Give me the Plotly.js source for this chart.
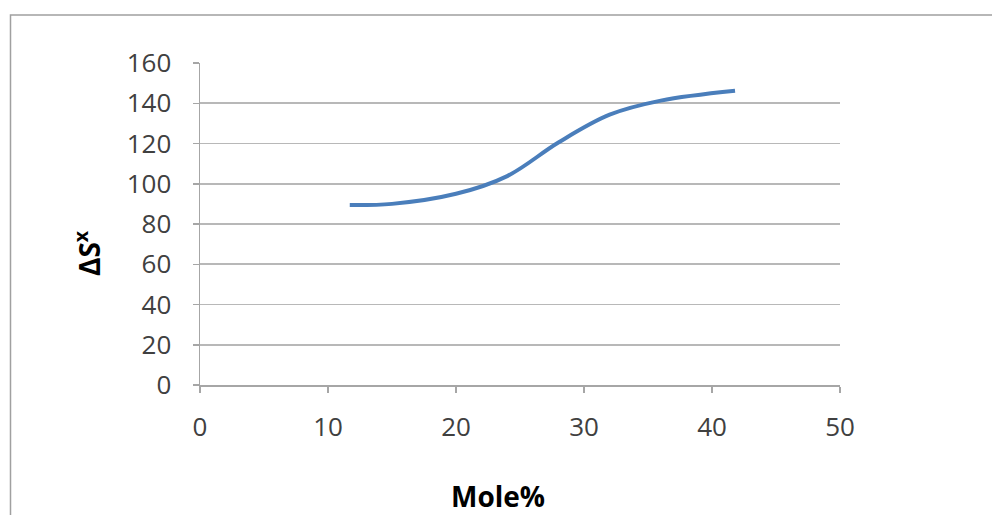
<!DOCTYPE html>
<html>
<head>
<meta charset="utf-8">
<script src="https://cdn.plot.ly/plotly-3.0.1.min.js"></script>
<style>html,body{margin:0;padding:0;background:#fff;}#chart{width:992px;height:515px;}</style>
</head>
<body>
<div id="chart"></div>
<script>
// Data (Mole% vs ΔS*)
const molePercent = [11.7, 15, 20, 24, 28, 32, 36, 41.8];
const deltaS = [89.4, 90, 95, 103.8, 120.5, 134.3, 141.3, 146.2];
const xTicks = [0, 10, 20, 30, 40, 50];
const yTicks = [0, 20, 40, 60, 80, 100, 120, 140, 160];

const W = 992, H = 515;
const L = 200, R = 840, T = 63, B = 385;
const px = x => (x - L) / (R - L);
const py = y => (B - y) / (B - T);

const trace = {
  x: molePercent, y: deltaS, type: 'scatter', mode: 'lines',
  line: {color: '#4a7ebb', width: 4, shape: 'spline', smoothing: 1},
  hoverinfo: 'x+y'
};

const fontFam = '"Open Sans", "Liberation Sans", sans-serif';
const layout = {
  width: W, height: H,
  margin: {l: L, r: W - R, t: T, b: H - B, pad: 0},
  paper_bgcolor: '#ffffff', plot_bgcolor: '#ffffff',
  showlegend: false,
  font: {family: fontFam, color: '#404040', size: 26},
  xaxis: {
    range: [0, 50], tickvals: xTicks, ticktext: xTicks.map(String),
    showgrid: false, zeroline: false, showline: true, linecolor: '#a6a6a6', linewidth: 1.5,
    ticks: 'outside', ticklen: 6, tickcolor: '#a6a6a6', tickwidth: 1.5,
    ticklabelstandoff: 12, tickfont: {size: 26, color: '#404040'}, fixedrange: true
  },
  yaxis: {
    range: [0, 160], tickvals: yTicks, ticktext: yTicks.map(String),
    showgrid: true, gridcolor: '#b8b8b8', gridwidth: 1.6,
    zeroline: false, showline: true, linecolor: '#a6a6a6', linewidth: 1.5,
    ticks: 'outside', ticklen: 6, tickcolor: '#a6a6a6', tickwidth: 1.5,
    ticklabelstandoff: 16, tickfont: {size: 26, color: '#404040'}, fixedrange: true
  },
  shapes: [{
    type: 'rect', xref: 'paper', yref: 'paper',
    x0: px(10.5), x1: px(1000), y0: py(530), y1: py(15),
    line: {color: '#a0a0a0', width: 1.5}, fillcolor: 'rgba(0,0,0,0)', layer: 'below'
  }],
  annotations: [
    {text: '<b>ΔS<sup>x</sup></b>', xref: 'paper', yref: 'paper', x: px(87), y: py(253),
     textangle: -90, showarrow: false, xanchor: 'center', yanchor: 'middle',
     font: {family: fontFam, size: 28, color: '#000000'}},
    {text: '<b>Mole%</b>', xref: 'paper', yref: 'paper', x: px(498), y: py(496),
     showarrow: false, xanchor: 'center', yanchor: 'middle',
     font: {family: fontFam, size: 28, color: '#000000'}}
  ]
};

Plotly.newPlot('chart', [trace], layout, {displayModeBar: false, staticPlot: true});
</script>
</body>
</html>
